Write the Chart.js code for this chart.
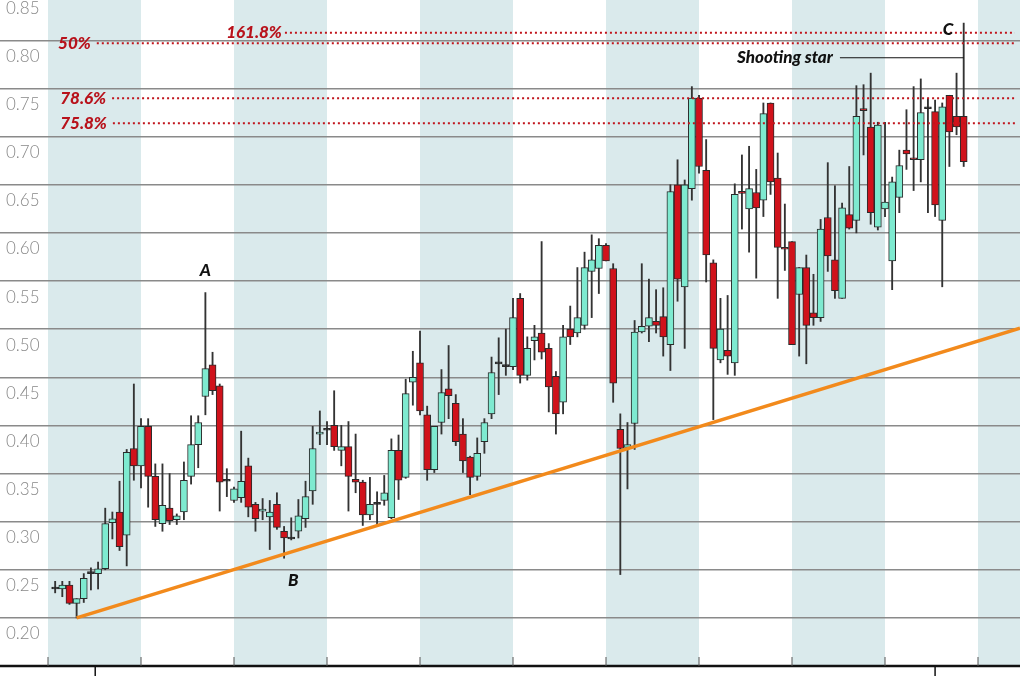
<!DOCTYPE html>
<html><head><meta charset="utf-8">
<script src="https://cdn.jsdelivr.net/npm/chart.js@4/dist/chart.umd.min.js"></script>
<style>html,body{margin:0;padding:0;background:#fff}#wrap{width:1020px;height:680px}</style>
</head><body><div id="wrap"><canvas id="c"></canvas></div>
<script>
const opens=[.230,.230,.234,.215,.220,.246,.246,.251,.299,.310,.286,.376,.358,.399,.347,.298,.314,.302,.310,.347,.380,.430,.463,.441,.342,.322,.325,.358,.318,.311,.305,.318,.290,.282,.290,.303,.332,.391,.395,.400,.374,.378,.344,.341,.307,.318,.322,.304,.374,.346,.445,.465,.411,.354,.403,.438,.423,.391,.367,.347,.383,.412,.464,.461,.461,.532,.452,.488,.496,.480,.451,.424,.500,.496,.504,.560,.563,.587,.563,.396,.377,.402,.497,.503,.508,.513,.484,.650,.544,.646,.740,.665,.569,.468,.478,.465,.643,.625,.642,.634,.735,.657,.585,.591,.536,.564,.517,.512,.616,.572,.532,.619,.613,.729,.710,.606,.625,.571,.637,.686,.678,.676,.729,.726,.613,.743,.721,.721];
const highs=[.238,.238,.238,.220,.246,.252,.258,.314,.310,.342,.375,.443,.407,.407,.360,.360,.350,.308,.362,.410,.410,.538,.476,.443,.355,.336,.394,.366,.320,.324,.322,.330,.295,.304,.323,.342,.399,.415,.404,.436,.400,.404,.391,.343,.346,.331,.348,.386,.390,.448,.477,.498,.420,.399,.458,.483,.432,.407,.368,.387,.407,.471,.491,.500,.532,.537,.492,.504,.591,.485,.456,.504,.524,.564,.580,.598,.594,.589,.568,.412,.403,.509,.568,.552,.541,.543,.650,.676,.655,.752,.743,.697,.572,.532,.535,.651,.681,.690,.666,.735,.735,.683,.630,.591,.564,.577,.557,.614,.673,.649,.631,.669,.753,.754,.766,.715,.715,.658,.686,.728,.752,.760,.740,.738,.735,.743,.766,.818];
const lows=[.226,.222,.214,.200,.216,.229,.230,.250,.282,.270,.254,.343,.335,.315,.295,.290,.297,.297,.302,.339,.356,.411,.432,.311,.326,.320,.320,.305,.290,.302,.271,.292,.262,.281,.283,.294,.318,.380,.380,.374,.358,.311,.330,.296,.302,.296,.317,.303,.323,.345,.421,.411,.343,.351,.391,.407,.379,.351,.328,.343,.371,.407,.432,.452,.458,.444,.447,.468,.469,.414,.391,.412,.484,.492,.500,.512,.537,.571,.424,.245,.334,.375,.496,.487,.496,.472,.457,.529,.480,.634,.662,.549,.406,.465,.453,.452,.604,.580,.553,.617,.640,.532,.561,.484,.472,.464,.504,.508,.560,.532,.532,.604,.600,.681,.609,.603,.617,.541,.621,.666,.644,.653,.621,.617,.544,.669,.702,.669];
const closes=[.230,.234,.215,.220,.241,.246,.251,.298,.303,.274,.372,.358,.399,.347,.302,.317,.301,.306,.343,.380,.403,.459,.436,.341,.342,.334,.342,.315,.303,.313,.310,.294,.283,.282,.306,.326,.376,.393,.395,.378,.378,.347,.341,.307,.318,.318,.330,.374,.343,.433,.450,.415,.354,.399,.434,.431,.383,.363,.346,.371,.403,.455,.464,.461,.512,.452,.480,.492,.476,.440,.412,.492,.492,.512,.564,.572,.587,.571,.444,.376,.380,.497,.503,.512,.504,.492,.643,.552,.650,.740,.669,.577,.480,.500,.472,.640,.641,.646,.626,.724,.653,.585,.583,.484,.564,.504,.512,.604,.576,.540,.626,.605,.721,.727,.621,.712,.632,.653,.670,.682,.676,.725,.729,.629,.731,.705,.710,.674];
const yLabels=[0.20,0.25,0.30,0.35,0.40,0.45,0.50,0.55,0.60,0.65,0.70,0.75,0.80,0.85];
const bandStarts=[-1,25,51,77,103,129];
const bandLen=13;
const yearTicks=[5.6,123];
const trend=[{x:3,y:0.200},{x:134.87,y:0.501}];
const fibs=[{t:'161.8%',v:0.808,tx:31.7,align:'right'},{t:'50%',v:0.797,tx:0.4,align:'left'},{t:'78.6%',v:0.740,tx:0.7,align:'left'},{t:'75.8%',v:0.714,tx:0.7,align:'left'}];
const notes=[{t:'A',x:21,v:0.561},{t:'B',x:33.3,v:0.239},{t:'C',x:124.8,v:0.811}];
const starLabel={t:'Shooting star',xEnd:108.7,v:0.782,lineFrom:109.7,lineTo:127};

const GREEN='#7eead0',RED='#d0121b';
const idx=opens.map((_,i)=>i);
const bodyCol=idx.map(i=>closes[i]>opens[i]?GREEN:(closes[i]<opens[i]?RED:'#222'));
const wickCol=idx.map(i=>'#333');

const deco={id:'deco',
 beforeDraw(ch){const {ctx,chartArea:a,scales:{x,y}}=ch;ctx.save();ctx.fillStyle='#daeaec';
  bandStarts.forEach(s=>{const x0=x.getPixelForValue(s),x1=x.getPixelForValue(s+bandLen);ctx.fillRect(x0,0,x1-x0,a.bottom);});ctx.restore();},
 afterDatasetsDraw(ch){const {ctx,chartArea:a,scales:{x,y}}=ch;ctx.save();
  ctx.font='italic 900 17px Lato';ctx.textBaseline='middle';
  fibs.forEach(f=>{const py=y.getPixelForValue(f.v);const px=x.getPixelForValue(f.tx);ctx.fillStyle='#b8121b';ctx.textAlign=f.align;
   let tw=ctx.measureText(f.t).width;ctx.fillText(f.t,px,py);const start=f.align==='left'?px+tw+6:px+3;
   ctx.strokeStyle='#c0141c';ctx.lineWidth=2;ctx.setLineDash([2,3]);ctx.beginPath();ctx.moveTo(start,py);ctx.lineTo(1015,py);ctx.stroke();});
  ctx.setLineDash([]);
  ctx.font='300 17px Lato';ctx.fillStyle='#888';ctx.textAlign='left';
  yLabels.forEach(v=>{ctx.fillText(v.toFixed(2),6,y.getPixelForValue(v)+16);});
  ctx.fillStyle='#111';ctx.font='italic 900 17px Lato';ctx.textAlign='center';
  notes.forEach(n=>ctx.fillText(n.t,x.getPixelForValue(n.x),y.getPixelForValue(n.v)));
  const sy=y.getPixelForValue(starLabel.v);ctx.textAlign='right';ctx.fillText(starLabel.t,x.getPixelForValue(starLabel.xEnd),sy);
  ctx.strokeStyle='#111';ctx.lineWidth=1.2;ctx.beginPath();ctx.moveTo(x.getPixelForValue(starLabel.lineFrom),sy);ctx.lineTo(x.getPixelForValue(starLabel.lineTo),sy);ctx.stroke();
  ctx.strokeStyle='#111';ctx.lineWidth=2.5;ctx.beginPath();ctx.moveTo(0,a.bottom);ctx.lineTo(1020,a.bottom);ctx.stroke();
  ctx.lineWidth=1.5;yearTicks.forEach(t=>{const px=x.getPixelForValue(t);ctx.beginPath();ctx.moveTo(px,a.bottom);ctx.lineTo(px,a.bottom+10);ctx.stroke();});
  ctx.lineWidth=1;ctx.strokeStyle='#555';bandStarts.forEach(s=>[s,s+bandLen].forEach(t=>{const px=x.getPixelForValue(t);ctx.beginPath();ctx.moveTo(px,a.bottom-9);ctx.lineTo(px,a.bottom);ctx.stroke();}));
  ctx.restore();}
};

new Chart(document.getElementById('c'),{
 type:'bar',
 data:{datasets:[
  {type:'line',data:trend,borderColor:'#f28a1c',borderWidth:3.5,pointRadius:0,order:0},
  {data:idx.map(i=>({x:i,y:[lows[i],highs[i]]})),backgroundColor:wickCol,barThickness:1.2,grouped:false,order:3},
  {data:idx.map(i=>({x:i,y:[opens[i],closes[i]]})),backgroundColor:bodyCol,borderColor:'#2a2a2a',borderWidth:1,borderSkipped:false,barThickness:7,minBarLength:2,grouped:false,order:2}
 ]},
 options:{responsive:true,maintainAspectRatio:false,animation:false,
  layout:{padding:{left:0,right:0,top:0,bottom:14}},
  plugins:{legend:{display:false},tooltip:{enabled:false}},
  scales:{
   x:{type:'linear',min:-7.71,max:134.87,display:false,offset:false},
   y:{min:0.150,max:0.842,afterBuildTicks(s){s.ticks=yLabels.map(v=>({value:v}));},
      ticks:{display:false},border:{display:false},grid:{color:'#8a8a8a',lineWidth:1.5,drawTicks:false}}
  }},
 plugins:[deco]
});
</script></body></html>
